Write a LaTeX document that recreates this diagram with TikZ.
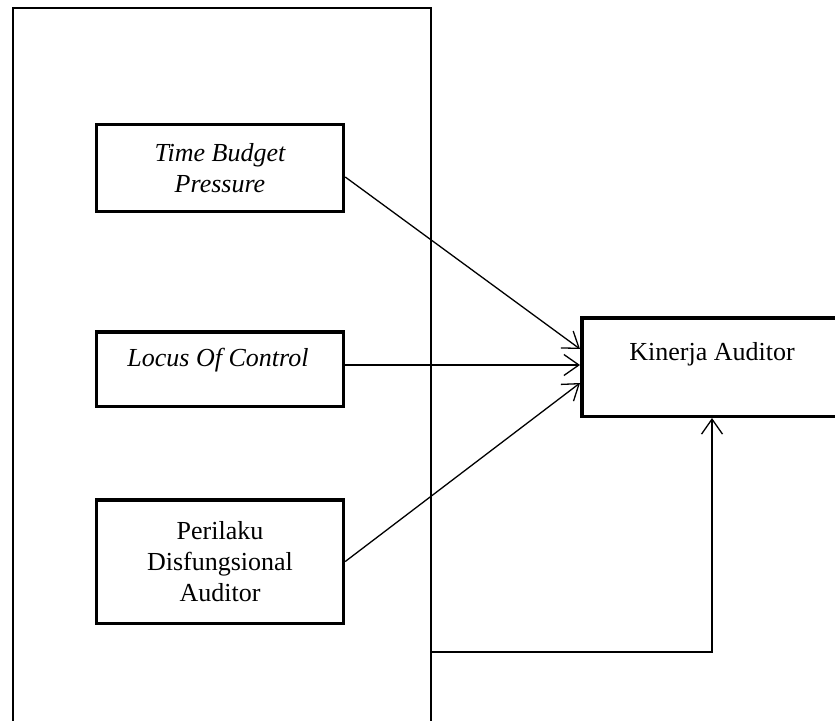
\documentclass[tikz,border=0pt]{standalone}
\usepackage{fontspec}
\setmainfont{Liberation Serif}
\usetikzlibrary{arrows.meta,calc}
\begin{document}
\begin{tikzpicture}[x=1pt,y=-1pt,
  box/.style={draw,line width=3.5pt,rectangle,inner sep=0pt,align=center,
    font=\fontsize{26}{31}\selectfont},
  lbl/.style={inner sep=0pt,align=center,font=\fontsize{26}{31}\selectfont},
  conn/.style={line width=1.3pt,-{Straight Barb[length=15pt,width=21pt]}}]
\useasboundingbox (0,0) rectangle (835,720);
\draw[line width=1.8pt] (13,730) -- (13,8) -- (431,8) -- (431,730);
\coordinate (bigr) at (432,652);
\node[box,minimum width=247pt,minimum height=87pt] (tbp) at (220,168) {\itshape Time Budget\\\itshape Pressure};
\node[box,minimum width=247pt,minimum height=74.5pt] (loc) at (220,369) {};
\node[lbl] at (218,360) {\itshape Locus Of Control};
\node[box,minimum width=247pt,minimum height=123.5pt] (pda) at (220,561.5) {Perilaku\\Disfungsional\\Auditor};
\node[box,minimum width=260.5pt,minimum height=98.5pt] (ka) at (712,367) {};
\node[lbl] at (712,354) {Kinerja Auditor};
\draw[conn] ($(tbp.east)+(0,9)$) -- ($(ka.west)+(0,-18)$);
\draw[conn] ($(loc.east)+(0,-4)$) -- ($(ka.west)+(0,-2)$);
\draw[conn] (pda.east) -- ($(ka.west)+(0,16)$);
\draw[conn] (bigr) -| (ka.south);
\end{tikzpicture}
\end{document}
